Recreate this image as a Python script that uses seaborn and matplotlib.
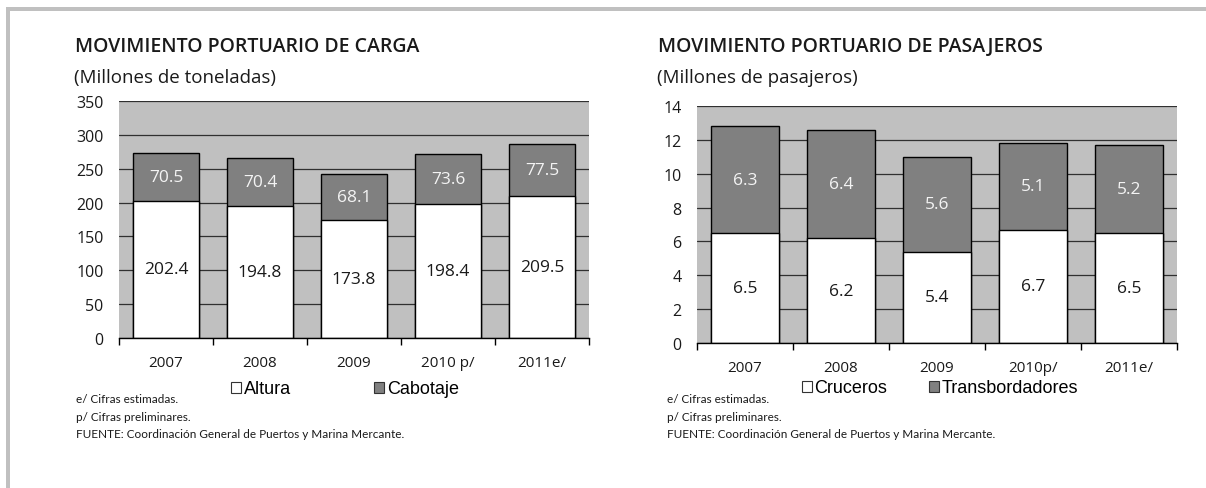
import numpy as np
import pandas as pd
import matplotlib
matplotlib.use('Agg')
import matplotlib.pyplot as plt
import seaborn as sns
from matplotlib.patches import Patch, Rectangle

# Datos de las graficas
anios_carga = ['2007', '2008', '2009', '2010 p/', '2011e/']
altura = [202.4, 194.8, 173.8, 198.4, 209.5]
cabotaje = [70.5, 70.4, 68.1, 73.6, 77.5]

anios_pasaj = ['2007', '2008', '2009', '2010p/', '2011e/']
cruceros = [6.5, 6.2, 5.4, 6.7, 6.5]
transbordadores = [6.3, 6.4, 5.6, 5.1, 5.2]

notas = ['e/ Cifras estimadas.',
         'p/ Cifras preliminares.',
         'FUENTE: Coordinación General de Puertos y Marina Mercante.']

sns.set_theme(style='white')
plt.rcParams['font.family'] = ['Open Sans', 'DejaVu Sans']

FONDO = '#c0c0c0'
GRIS = '#808080'
TEXTO = '#1a1a1a'
W, H = 1206, 489

fig = plt.figure(figsize=(W / 100, H / 100), dpi=100)


def grafica(ax, cats, base, arriba, ymax, paso):
    df = pd.DataFrame({'anio': cats, 'base': base, 'arriba': arriba})
    df['total'] = df['base'] + df['arriba']
    ax.set_facecolor(FONDO)
    ax.set_axisbelow(True)
    # barra total (gris) y encima la parte de abajo (blanca)
    sns.barplot(data=df, x='anio', y='total', color=GRIS, saturation=1, width=0.7,
                edgecolor='black', linewidth=1, errorbar=None, ax=ax)
    sns.barplot(data=df, x='anio', y='base', color='white', saturation=1, width=0.7,
                edgecolor='black', linewidth=1, errorbar=None, ax=ax)
    for i, row in df.iterrows():
        ax.text(i, row['base'] / 2, f"{row['base']:.1f}", ha='center', va='center',
                fontsize=12.5, color=TEXTO)
        ax.text(i, row['base'] + row['arriba'] / 2, f"{row['arriba']:.1f}", ha='center',
                va='center', fontsize=12.5, color='#f4f4f4')
    ax.set_ylim(0, ymax)
    ax.set_xlim(-0.5, len(cats) - 0.5)
    ax.set_yticks(np.arange(0, ymax + paso, paso))
    ax.yaxis.grid(True, color='#303030', linewidth=0.9)
    ax.xaxis.grid(False)
    ax.set_xlabel('')
    ax.set_ylabel('')
    for s in ['top', 'left', 'right']:
        ax.spines[s].set_visible(False)
    ax.spines['bottom'].set_color('black')
    ax.spines['bottom'].set_linewidth(1)
    ax.set_xticks(np.arange(-0.5, len(cats), 1), minor=True)
    ax.tick_params(axis='x', which='major', length=0, pad=12.5, labelsize=11, labelcolor=TEXTO)
    ax.tick_params(axis='x', which='minor', length=5, width=1, color='black', direction='out',
                   bottom=True)
    ax.tick_params(axis='y', length=0, pad=11, labelsize=11.5, labelcolor=TEXTO)


ax1 = fig.add_axes([119 / W, 1 - 339 / H, 470 / W, 237 / H])
grafica(ax1, anios_carga, altura, cabotaje, 350, 50)

ax2 = fig.add_axes([697 / W, 1 - 344 / H, 480 / W, 237 / H])
grafica(ax2, anios_pasaj, cruceros, transbordadores, 14, 2)

# titulos
fig.text(75 / W, 1 - 47 / H, 'MOVIMIENTO PORTUARIO DE CARGA', fontsize=14,
         fontweight='semibold', va='center', color=TEXTO)
fig.text(74 / W, 1 - 78 / H, '(Millones de toneladas)', fontsize=13.5, va='center', color=TEXTO)
fig.text(658 / W, 1 - 47 / H, 'MOVIMIENTO PORTUARIO DE PASAJEROS', fontsize=14,
         fontweight='semibold', va='center', color=TEXTO)
fig.text(657 / W, 1 - 78 / H, '(Millones de pasajeros)', fontsize=13.5, va='center', color=TEXTO)

# leyendas
def leyenda(etiquetas, x, y, espacio):
    handles = [Patch(facecolor='white', edgecolor='#333333', linewidth=0.8),
               Patch(facecolor=GRIS, edgecolor='#333333', linewidth=0.8)]
    fig.legend(handles, etiquetas, loc='center', bbox_to_anchor=(x, y), ncol=2,
               frameon=False, prop={'family': 'Liberation Sans', 'size': 13},
               handlelength=0.55, handleheight=0.55, handletextpad=0.15,
               columnspacing=espacio, labelcolor='black')


leyenda(['Altura', 'Cabotaje'], 345 / W, 1 - 390 / H, 4.6)
leyenda(['Cruceros', 'Transbordadores'], 940 / W, 1 - 389 / H, 2.3)

# notas al pie
for x0 in [76, 667]:
    for nota, y0 in zip(notas, [400, 418, 435]):
        fig.text(x0 / W, 1 - y0 / H, nota, fontsize=8.5, va='center', color=TEXTO,
                 family=['Lato', 'DejaVu Sans'])

# marco gris
fig.add_artist(Rectangle((6 / W, 1 - 12 / H), 1, 4 / H, transform=fig.transFigure,
                         facecolor=FONDO, linewidth=0))
fig.add_artist(Rectangle((6 / W, 0), 4 / W, 1 - 8 / H, transform=fig.transFigure,
                         facecolor=FONDO, linewidth=0))

fig.savefig('out.png', dpi=100)
